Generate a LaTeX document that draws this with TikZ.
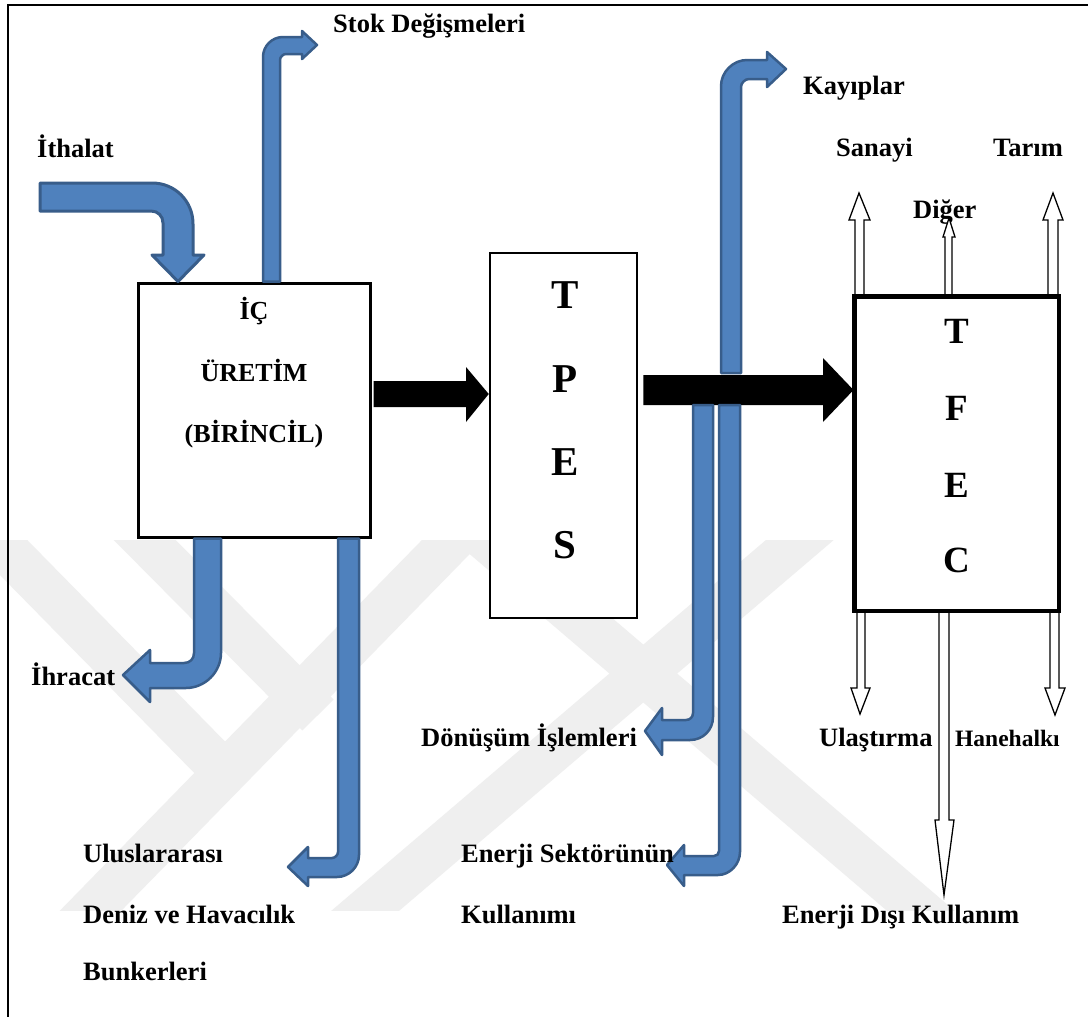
\documentclass[tikz,border=0pt]{standalone}
\usepackage{fontspec}
\setmainfont{Liberation Serif}
\usetikzlibrary{calc}
\definecolor{bfill}{HTML}{4F81BD}
\definecolor{bline}{HTML}{385D8A}
\definecolor{wm}{HTML}{EFEFEF}
\tikzset{
  blue arrow/.style={fill=bfill, draw=bline, line width=2.5pt, line join=round},
  hollow arrow/.style={fill=white, draw=black, line width=1.3pt, line join=miter},
  lbl/.style={anchor=base west, inner sep=0pt, font=\fontsize{26.5}{30}\selectfont\bfseries},
  biglet/.style={anchor=base, inner sep=0pt, font=\fontsize{41}{44}\selectfont\bfseries},
  boxtxt/.style={anchor=base, inner sep=0pt, font=\fontsize{26}{30}\selectfont\bfseries},
  wmband/.style={draw=wm, line width=44pt},
}
\begin{document}
\begin{tikzpicture}[x=1pt,y=-1pt]
\useasboundingbox (0,0) rectangle (1088,1017);
\fill[white] (0,0) rectangle (1088,1017);
% faint background watermark
\begin{scope}
\clip (0,540) rectangle (1088,910);
\draw[wmband] (482,510) -- (62,940);
\draw[wmband] (-33,510) -- (232,780);
\draw[wmband] (115,510) -- (318,715);
\draw[wmband] (835,510) -- (331,940);
\draw[wmband] (452,510) -- (955,940);
\end{scope}
% frame (clipped on right and bottom)
\draw[line width=2pt] (1100,5) -- (8,5) -- (8,1030);

% boxes
\node[draw, line width=3pt, fill=white, minimum width=232pt, minimum height=254pt, inner sep=0pt] (ic) at (254,410) {};
\node[draw, line width=2.5pt, fill=white, minimum width=147pt, minimum height=365pt, inner sep=0pt] (tpes) at (563.5,435.5) {};
\node[draw, line width=3pt, fill=white, minimum width=203pt, minimum height=313pt, inner sep=0pt] (tfec) at (956.5,453.5) {};

% black arrows
\fill[black] ($(ic.east|-0,381)+(2,0)$) -- (466,381) -- (466,367) -- (tpes.west|-0,394) -- (466,422) -- (466,407) -- ($(ic.east|-0,407)+(2,0)$) -- cycle;
\fill[black] ($(tpes.east|-0,375)+(5,0)$) -- (823,375) -- (823,358) -- (tfec.west|-0,390) -- (823,422) -- (823,405) -- ($(tpes.east|-0,405)+(5,0)$) -- cycle;

% blue bent arrows
% Ithalat
\draw[blue arrow, line width=3pt] (40,183) -- (152,183) .. controls (175,183) and (193,201) .. (193,224) -- (193,255) -- (204,255) -- (ic.north-|178,0) -- (152,255) -- (163,255) -- (163,223) .. controls (163,216) and (158,211) .. (151,211) -- (40,211) -- cycle;
% Stok Degismeleri
\draw[blue arrow] (ic.north-|263,0) -- (263,57) .. controls (263,46) and (272,37) .. (283,37) -- (302,37) -- (302,31) -- (317,45) -- (302,59) -- (302,54) -- (286,54) .. controls (283,54) and (280,57) .. (280,60) -- (ic.north-|280,0) -- cycle;
% Ihracat
\draw[blue arrow] (ic.south-|194,0) -- (ic.south-|221,0) -- (221,653) .. controls (221,672) and (205,688) .. (186,688) -- (150,688) -- (150,702) -- (123,675) -- (150,650) -- (150,663) -- (184,663) .. controls (190,663) and (194,659) .. (194,653) -- cycle;
% Uluslararasi
\draw[blue arrow] (ic.south-|338,0) -- (ic.south-|359,0) -- (359,855) .. controls (359,867) and (349,877) .. (337,877) -- (308,877) -- (308,886) -- (288,867) -- (308,847) -- (308,858) -- (332,858) .. controls (335,858) and (338,855) .. (338,852) -- cycle;
% Kayiplar
\draw[blue arrow] (721,373) -- (721,86) .. controls (721,72) and (733,60) .. (747,60) -- (767,60) -- (767,52) -- (786,69) -- (767,87) -- (767,79) -- (749,79) .. controls (745,79) and (741,83) .. (741,87) -- (741,373) -- cycle;
% Donusum Islemleri
\draw[blue arrow] (693,405) -- (713,405) -- (713,717) .. controls (713,730) and (703,740) .. (690,740) -- (662,740) -- (662,755) -- (645,731) -- (662,708) -- (662,720) -- (686,720) .. controls (690,720) and (693,717) .. (693,713) -- cycle;
% Enerji Sektorunun
\draw[blue arrow] (719,405) -- (740,405) -- (740,852) .. controls (740,864) and (730,875) .. (718,875) -- (684,875) -- (684,886) -- (667,865) -- (684,845) -- (684,856) -- (714,856) .. controls (717,856) and (719,854) .. (719,851) -- cycle;

% labels
\node[lbl] (stok) at (333,32) {Stok Değişmeleri};
\node[lbl] (ithalat) at (37,157) {İthalat};
\node[lbl] (kayip) at (803,94) {Kayıplar};
\node[lbl] (sanayi) at (836,156) {Sanayi};
\node[lbl] (tarim) at (993,156) {Tarım};
\node[lbl] (diger) at (913,218) {Diğer};
\node[lbl] (ihracat) at (31,685) {İhracat};
\node[lbl] (donusum) at (421,746) {Dönüşüm İşlemleri};
\node[lbl] (ulas) at (819,746) {Ulaştırma};
\node[lbl, font=\fontsize{23.5}{28}\selectfont\bfseries] (hane) at (955,746) {Hanehalkı};
\node[lbl] (ulus) at (83,862) {Uluslararası};
\node[lbl] (deniz) at (83,923) {Deniz ve Havacılık};
\node[lbl] (bunker) at (83,980) {Bunkerleri};
\node[lbl] (sektor) at (461,862) {Enerji Sektörünün};
\node[lbl] (kullanimi) at (461,923) {Kullanımı};
\node[lbl] (edisi) at (782,923) {Enerji Dışı Kullanım};

% hollow arrows from TFEC
\draw[hollow arrow] (tfec.north-|855,0) -- (855,220) -- (849,220) -- (859,193) -- (870,220) -- (864,220) -- (tfec.north-|864,0);
\draw[hollow arrow] (tfec.north-|945,0) -- (945,237) -- (943,237) -- (949,218) -- (955,237) -- (952,237) -- (tfec.north-|952,0);
\draw[hollow arrow] (tfec.north-|1048,0) -- (1048,220) -- (1043,220) -- (1053,193) -- (1063,220) -- (1058,220) -- (tfec.north-|1058,0);
\draw[hollow arrow] (tfec.south-|857,0) -- (857,688) -- (851,688) -- (860,714) -- (870,688) -- (865,688) -- (tfec.south-|865,0);
\draw[hollow arrow] (tfec.south-|1050,0) -- (1050,688) -- (1045,688) -- (1055,715) -- (1065,688) -- (1059,688) -- (tfec.south-|1059,0);
\draw[hollow arrow] (tfec.south-|939,0) -- (939,820) -- (935,820) -- (944,895) -- (954,820) -- (949,820) -- (tfec.south-|949,0);

% redraw box border on top
\draw[line width=3pt] (tfec.north west) rectangle (tfec.south east);

% box texts
\node[boxtxt] (ic1) at (254,319) {İÇ};
\node[boxtxt] (ic2) at (254,381) {ÜRETİM};
\node[boxtxt] (ic3) at (254,442) {(BİRİNCİL)};
\node[biglet] (t1) at (565,308) {T};
\node[biglet] (t2) at (565,392) {P};
\node[biglet] (t3) at (565,475) {E};
\node[biglet] (t4) at (565,558) {S};
\node[biglet, font=\fontsize{37}{40}\selectfont\bfseries] (f1) at (957,343) {T};
\node[biglet, font=\fontsize{37}{40}\selectfont\bfseries] (f2) at (957,420) {F};
\node[biglet, font=\fontsize{37}{40}\selectfont\bfseries] (f3) at (957,497) {E};
\node[biglet, font=\fontsize{37}{40}\selectfont\bfseries] (f4) at (957,572) {C};
\end{tikzpicture}
\end{document}
